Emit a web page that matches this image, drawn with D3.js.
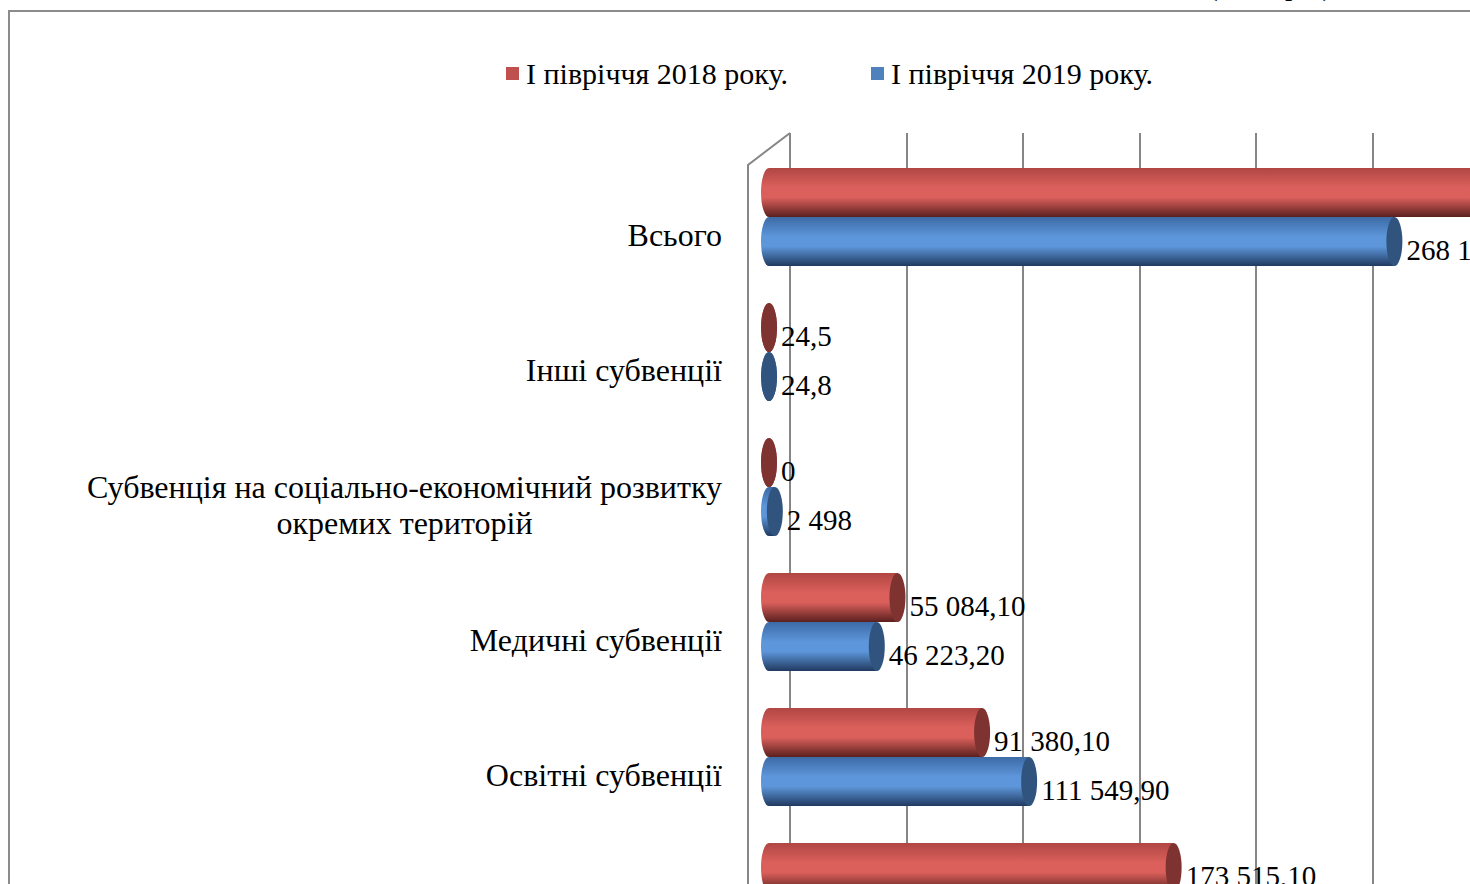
<!DOCTYPE html>
<html>
<head>
<meta charset="utf-8">
<script src="https://cdn.jsdelivr.net/npm/d3@7"></script>
<style>
  body { margin: 0; background: #fff; overflow: hidden; }
  svg { display: block; font-family: "Liberation Serif", "Times New Roman", serif; }
</style>
</head>
<body>
<div id="chart"></div>
<script>
// categories, top to bottom (the last one is cut off by the picture edge)
let categories = [
    ["Всього"],
    ["Інші субвенції"],
    ["Субвенція на соціально-економічний розвитку", "окремих територій"],
    ["Медичні субвенції"],
    ["Освітні субвенції"],
    ["Соціальні субвенції"]
];
let series = ["І півріччя 2018 року.", "І півріччя 2019 року."];
let values2018 = [320003.8, 24.5, 0, 55084.1, 91380.1, 173515.1];
let values2019 = [268171.9, 24.8, 2498, 46223.2, 111549.9, 107876.0];
let labels2018 = ["320 003,80", "24,5", "0", "55 084,10", "91 380,10", "173 515,10"];
let labels2019 = ["268 171,90", "24,8", "2 498", "46 223,20", "111 549,90", "107 876,00"];
let gridTicks = [0, 50000, 100000, 150000, 200000, 250000, 300000];

let width = 1470, height = 884;
let depth = {dx: 21, dy: -16};   // half the 3d depth of the plot
let barH = 49, capRx = 8;

let colors = [
    {top: '#b04643', mid: '#db605c', bot: '#5a201e', cap: '#7e3331'},
    {top: '#3c6aa6', mid: '#5d96da', bot: '#203a60', cap: '#31547f'}
];

let svg = d3.select('#chart').append('svg')
    .attr('width', width)
    .attr('height', height);

let defs = svg.append('defs');
colors.forEach(function(c, i) {
    let g = defs.append('linearGradient')
        .attr('id', 'grad' + i)
        .attr('x1', 0).attr('y1', 0).attr('x2', 0).attr('y2', 1);
    g.append('stop').attr('offset', '0%').attr('stop-color', c.top);
    g.append('stop').attr('offset', '40%').attr('stop-color', c.mid);
    g.append('stop').attr('offset', '60%').attr('stop-color', c.mid);
    g.append('stop').attr('offset', '100%').attr('stop-color', c.bot);
});

// frame of the chart (cut by the picture edge)
svg.append('rect')
    .attr('x', 9).attr('y', 11)
    .attr('width', 1600).attr('height', 1000)
    .attr('fill', 'none')
    .attr('stroke', '#8c8c8c')
    .attr('stroke-width', 2);

// unit caption above the frame, mostly cut off
svg.append('text')
    .attr('x', 1208).attr('y', -5)
    .attr('font-size', 29)
    .text('(тис. грн.)');

// scales
let x = d3.scaleLinear()
    .domain([0, 50000])
    .range([769, 769 + 116.6]);

let y = d3.scalePoint()
    .domain(d3.range(categories.length))
    .range([217, 217 + 135 * (categories.length - 1)]);

let ySub = d3.scaleBand()
    .domain([0, 1])
    .range([-barH, barH]);

// walls and gridlines (back wall)
let wallTop = 133;
let grid = svg.append('g');
grid.selectAll('line')
    .data(gridTicks)
    .join('line')
    .attr('x1', d => Math.round(x(d) + depth.dx))
    .attr('x2', d => Math.round(x(d) + depth.dx))
    .attr('y1', wallTop)
    .attr('y2', height + 10)
    .attr('stroke', '#868686')
    .attr('stroke-width', 2);

let x0 = x(0);
grid.append('path')
    .attr('d', `M${x0 + depth.dx},${wallTop} L${x0 - depth.dx},${wallTop + 32} L${x0 - depth.dx},${height + 10}`)
    .attr('fill', 'none')
    .attr('stroke', '#868686')
    .attr('stroke-width', 2);

// bars as cylinders
let rows = [];
categories.forEach(function(c, i) {
    rows.push({cat: i, s: 0, v: values2018[i], label: labels2018[i]});
    rows.push({cat: i, s: 1, v: values2019[i], label: labels2019[i]});
});

let bars = svg.append('g').selectAll('g')
    .data(rows)
    .join('g')
    .attr('transform', d => `translate(0,${y(d.cat) + ySub(d.s)})`);

let ry = barH / 2;
bars.append('ellipse')
    .attr('cx', x0)
    .attr('cy', ry)
    .attr('rx', capRx)
    .attr('ry', ry)
    .attr('fill', d => `url(#grad${d.s})`);

bars.append('rect')
    .attr('x', x0)
    .attr('y', 0)
    .attr('width', d => Math.max(0, x(d.v) - x0))
    .attr('height', barH)
    .attr('fill', d => `url(#grad${d.s})`);

bars.append('ellipse')
    .attr('cx', d => x(d.v))
    .attr('cy', ry)
    .attr('rx', capRx)
    .attr('ry', ry)
    .attr('fill', d => colors[d.s].cap);

bars.append('text')
    .attr('x', d => x(d.v) + capRx + 4)
    .attr('y', ry + 18)
    .attr('font-size', 29)
    .attr('fill', '#000')
    .text(d => d.label);

// category labels, right edge at 722, lines centred on each other
let catLabels = svg.append('g').selectAll('text')
    .data(categories)
    .join('text')
    .attr('text-anchor', 'middle')
    .attr('font-size', 32)
    .attr('fill', '#000');

catLabels.each(function(lines, i) {
    let t = d3.select(this);
    lines.forEach(function(l, k) {
        t.append('tspan')
            .attr('x', 0)
            .attr('dy', k === 0 ? 0 : 36)
            .text(l);
    });
    let w = this.getBBox().width;
    let cy = y(i) + 18 - (lines.length - 1) * 18;
    t.attr('transform', `translate(${722 - w / 2},${cy + 11})`);
});

// legend
let legendX = [506, 871];
let legend = svg.append('g').selectAll('g')
    .data(series)
    .join('g')
    .attr('transform', (d, i) => `translate(${legendX[i]},67)`);

legend.append('rect')
    .attr('width', 13).attr('height', 13)
    .attr('fill', (d, i) => i === 0 ? '#c0504d' : '#4f81bd');

legend.append('text')
    .attr('x', 20).attr('y', 17)
    .attr('font-size', 30)
    .text(d => d);
</script>
</body>
</html>
